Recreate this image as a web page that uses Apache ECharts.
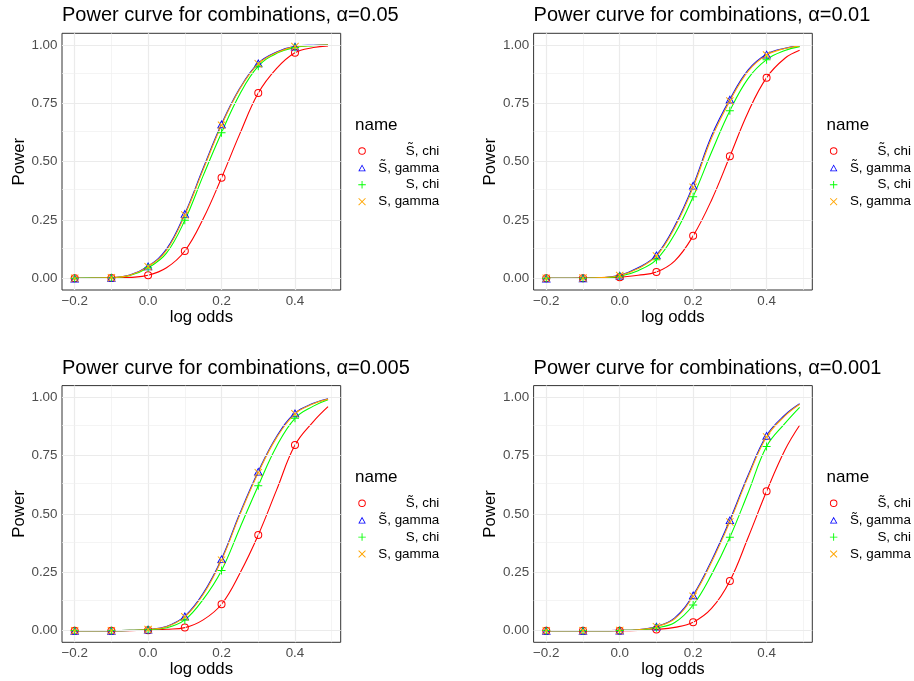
<!DOCTYPE html>
<html><head><meta charset="utf-8">
<script src="https://cdn.jsdelivr.net/npm/echarts@6/dist/echarts.min.js"></script>
<style>html,body{margin:0;padding:0;background:#fff}#c{width:914px;height:681px}</style>
</head><body><div id="c"></div><script>
// ---------- data ----------
const xCurve = [-0.2, -0.15, -0.1, -0.05, 0, 0.05, 0.1, 0.15, 0.2, 0.25, 0.3, 0.35, 0.4, 0.45, 0.49];
const xMarks = [-0.2, -0.1, 0, 0.1, 0.2, 0.3, 0.4];
const alphaLevels = ['0.05', '0.01', '0.005', '0.001'];
const seriesNames = ['S\u0303, chi', 'S\u0303, gamma', 'S, chi', 'S, gamma'];

// alpha = 0.05
const tildeChi05   = [0, 0, 0.001, 0.004, 0.013, 0.045, 0.117, 0.255, 0.431, 0.62, 0.794, 0.9, 0.967, 0.989, 0.996];
const tildeGamma05 = [0, 0.001, 0.003, 0.014, 0.052, 0.125, 0.277, 0.472, 0.661, 0.815, 0.922, 0.97, 0.994, 0.999, 1.0];
const sChi05       = [0, 0.001, 0.002, 0.012, 0.045, 0.108, 0.249, 0.44, 0.624, 0.79, 0.909, 0.964, 0.989, 0.997, 1.0];
const sGamma05     = [0, 0.001, 0.003, 0.013, 0.05, 0.12, 0.271, 0.466, 0.656, 0.812, 0.919, 0.968, 0.993, 0.998, 1.0];
// alpha = 0.01
const tildeChi01   = [0, 0, 0, 0.001, 0.005, 0.013, 0.027, 0.075, 0.182, 0.335, 0.523, 0.713, 0.86, 0.943, 0.977];
const tildeGamma01 = [0, 0, 0.001, 0.003, 0.013, 0.045, 0.1, 0.225, 0.398, 0.61, 0.767, 0.893, 0.96, 0.986, 0.996];
const sChi01       = [0, 0, 0, 0.002, 0.009, 0.033, 0.08, 0.19, 0.35, 0.54, 0.718, 0.857, 0.937, 0.976, 0.993];
const sGamma01     = [0, 0, 0.001, 0.003, 0.012, 0.042, 0.096, 0.218, 0.39, 0.6, 0.76, 0.888, 0.957, 0.985, 0.996];
// alpha = 0.005
const tildeChi005   = [0, 0, 0, 0, 0.002, 0.006, 0.013, 0.046, 0.113, 0.246, 0.41, 0.603, 0.795, 0.896, 0.96];
const tildeGamma005 = [0, 0, 0, 0.001, 0.005, 0.018, 0.062, 0.16, 0.307, 0.503, 0.682, 0.832, 0.932, 0.974, 0.993];
const sChi005       = [0, 0, 0, 0.001, 0.004, 0.012, 0.046, 0.134, 0.258, 0.44, 0.621, 0.79, 0.91, 0.962, 0.989];
const sGamma005     = [0, 0, 0, 0.001, 0.005, 0.017, 0.059, 0.155, 0.302, 0.497, 0.677, 0.827, 0.929, 0.972, 0.992];
// alpha = 0.001
const tildeChi001   = [0, 0, 0, 0, 0, 0.001, 0.005, 0.014, 0.036, 0.095, 0.213, 0.4, 0.597, 0.774, 0.88];
const tildeGamma001 = [0, 0, 0, 0, 0.001, 0.004, 0.018, 0.055, 0.152, 0.3, 0.474, 0.667, 0.836, 0.924, 0.972];
const sChi001       = [0, 0, 0, 0, 0.001, 0.003, 0.012, 0.035, 0.11, 0.24, 0.4, 0.592, 0.789, 0.888, 0.957];
const sGamma001     = [0, 0, 0, 0, 0.001, 0.004, 0.017, 0.051, 0.147, 0.293, 0.466, 0.66, 0.83, 0.92, 0.97];

const xMajorTicks = [-0.2, 0, 0.2, 0.4];
const xMinorGrid  = [-0.1, 0.1, 0.3, 0.5];
const yMajorTicks = [0, 0.25, 0.5, 0.75, 1];
const yMinorGrid  = [0.125, 0.375, 0.625, 0.875];

// ---------- styling / layout ----------
const panels = [
  [tildeChi05, tildeGamma05, sChi05, sGamma05],
  [tildeChi01, tildeGamma01, sChi01, sGamma01],
  [tildeChi005, tildeGamma005, sChi005, sGamma005],
  [tildeChi001, tildeGamma001, sChi001, sGamma001]
];
const colors = ['#FF0000', '#0000FF', '#00FF00', '#FFA500'];
const ring = 'path://M5,0A5,5,0,1,1,5,10A5,5,0,1,1,5,0ZM5,1.25A3.75,3.75,0,1,0,5,8.75A3.75,3.75,0,1,0,5,1.25Z';
const tri = 'path://M5,0L10,9L0,9ZM5,2.1L1.75,8L8.25,8Z';
const plus = 'path://M4.4,0H5.6V4.4H10V5.6H5.6V10H4.4V5.6H0V4.4H4.4Z';
const cross = 'path://M0.85,0L5,4.15L9.15,0L10,0.85L5.85,5L10,9.15L9.15,10L5,5.85L0.85,10L0,9.15L4.15,5L0,0.85Z';
const symbols = [ring, tri, plus, cross];
const FONT = 'Liberation Sans, Arial, Helvetica, sans-serif';

const gridPos = [
  {left: 62, top: 33.3},
  {left: 533.6, top: 33.3},
  {left: 62, top: 385.6},
  {left: 533.6, top: 385.6}
];
const GW = 278.7, GH = 256.7;

const minusFmt = v => {
  const s = Math.abs(v) < 1e-9 ? '0.0' : Math.abs(v).toFixed(1);
  return v < -1e-9 ? '\u2212' + s : s;
};

const option = {
  backgroundColor: '#ffffff',
  animation: false,
  title: [], grid: [], xAxis: [], yAxis: [], legend: [], series: []
};

panels.forEach((curves, i) => {
  const g = gridPos[i];
  option.grid.push({left: g.left, top: g.top, width: GW, height: GH, show: true,
    borderColor: '#333333', borderWidth: 1, backgroundColor: 'transparent', containLabel: false});
  option.title.push({text: 'Power curve for combinations, \u03b1=' + alphaLevels[i],
    left: g.left, top: g.top - 27.5, padding: 0,
    textStyle: {fontFamily: FONT, fontSize: 20, fontWeight: 'normal', color: '#000'}});
  option.title.push({text: 'name', left: g.left + 293, top: g.top + 83.5, padding: 0,
    textStyle: {fontFamily: FONT, fontSize: 17, fontWeight: 'normal', color: '#000'}});
  option.xAxis.push({
    type: 'value', gridIndex: i, min: -0.2345, max: 0.5245,
    name: 'log odds', nameLocation: 'middle', nameGap: 17,
    nameTextStyle: {fontFamily: FONT, fontSize: 16.75, color: '#000'},
    axisLine: {show: false},
    axisTick: {show: true, length: 3.5, customValues: xMajorTicks, lineStyle: {color: '#333333', width: 1}},
    axisLabel: {customValues: xMajorTicks, formatter: minusFmt, margin: 4.5,
      fontFamily: FONT, fontSize: 13.4, color: '#4D4D4D'},
    splitLine: {show: false}, minorSplitLine: {show: false}
  });
  option.yAxis.push({
    type: 'value', gridIndex: i, min: -0.05, max: 1.05,
    name: 'Power', nameLocation: 'middle', nameGap: 30,
    nameTextStyle: {fontFamily: FONT, fontSize: 16.75, color: '#000'},
    axisLine: {show: false},
    axisTick: {show: true, length: 3.5, customValues: yMajorTicks, lineStyle: {color: '#333333', width: 1}},
    axisLabel: {customValues: yMajorTicks, formatter: v => v.toFixed(2), margin: 4.5,
      fontFamily: FONT, fontSize: 13.4, color: '#4D4D4D'},
    splitLine: {show: false}, minorSplitLine: {show: false}
  });
  // gridlines through the axis scales
  const major = {color: '#EBEBEB', width: 1.2, type: 'solid'};
  const minor = {color: '#EFEFEF', width: 0.7, type: 'solid'};
  const gl = [];
  xMajorTicks.forEach(v => gl.push({xAxis: v, lineStyle: major}));
  xMinorGrid.forEach(v => gl.push({xAxis: v, lineStyle: minor}));
  yMajorTicks.forEach(v => gl.push({yAxis: v, lineStyle: major}));
  yMinorGrid.forEach(v => gl.push({yAxis: v, lineStyle: minor}));
  option.series.push({
    type: 'line', name: 'grid' + i, xAxisIndex: i, yAxisIndex: i, z: 1, silent: true,
    data: [[xCurve[0], 0]], showSymbol: false, symbol: 'none', lineStyle: {opacity: 0},
    markLine: {silent: true, symbol: ['none', 'none'], label: {show: false}, animation: false,
      emphasis: {disabled: true}, data: gl}
  });
  // markers (scatter) first so legend picks scatter icon
  curves.forEach((vals, j) => {
    const pts = xCurve.map((x, k) => [x, vals[k]])
      .filter(p => xMarks.some(m => Math.abs(m - p[0]) < 1e-9));
    option.series.push({
      type: 'scatter', name: seriesNames[j], xAxisIndex: i, yAxisIndex: i, z: 5 + j * 0.01,
      symbol: symbols[j], symbolSize: j === 1 ? [9, 8.2] : 8, symbolKeepAspect: false,
      itemStyle: {color: colors[j], opacity: 1}, silent: true,
      emphasis: {disabled: true}, data: pts
    });
  });
  curves.forEach((vals, j) => {
    option.series.push({
      type: 'line', name: seriesNames[j], xAxisIndex: i, yAxisIndex: i, z: 3 + j * 0.01,
      data: xCurve.map((x, k) => [x, vals[k]]),
      showSymbol: false, symbol: 'none', smooth: 0.4,
      lineStyle: {color: colors[j], width: 1.1}, itemStyle: {color: colors[j]},
      silent: true, emphasis: {disabled: true}
    });
  });
  option.legend.push({
    orient: 'vertical', left: g.left + 296.3, top: g.top + 110.2, padding: 0,
    itemWidth: 7.5, itemHeight: 7.5, itemGap: 1.9, selectedMode: false,
    data: seriesNames.map((n, j) => ({name: n, icon: symbols[j], itemStyle: {color: colors[j]}})),
    formatter: n => '{t|' + n + '}',
    textStyle: {fontFamily: FONT, fontSize: 13.4, color: '#000', lineHeight: 15,
      rich: {t: {fontFamily: FONT, fontSize: 13.4, color: '#000', width: 68.5, align: 'right', lineHeight: 15, height: 15}}}
  });
});

const chart = echarts.init(document.getElementById('c'), null, {renderer: 'canvas'});
chart.setOption(option);
</script></body></html>
